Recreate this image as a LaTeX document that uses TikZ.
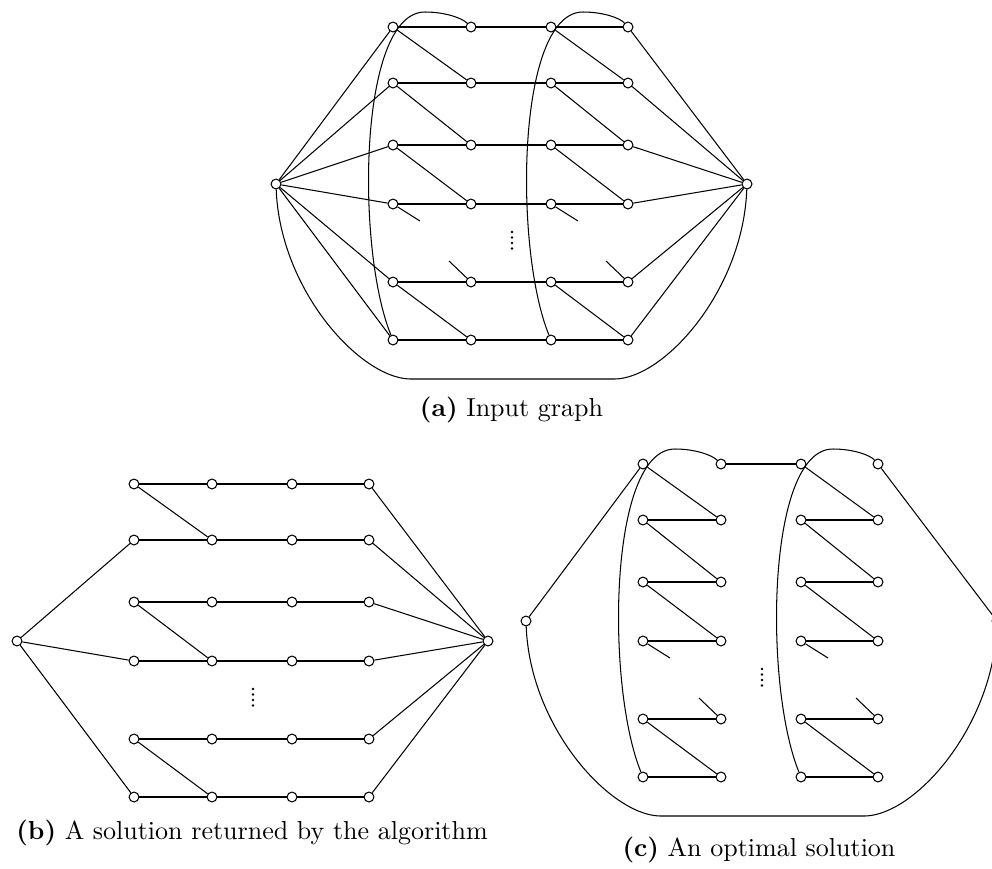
\documentclass[tikz,border=0pt]{standalone}
\usepackage{tikz}
\usetikzlibrary{positioning}

% one copy of the layout: two hubs and a 6x4 grid, names prefixed by #1
\newcommand{\placegrid}[1]{%
  \node[vtx] (#1L) at (276,184) {};
  \node[vtx] (#1R) at (747,184) {};
  \foreach \r/\yy in {1/27,2/83,3/145,4/204,5/282,6/340}
    \foreach \c/\xx in {1/393,2/471,3/551,4/628}
      \node[vtx] (#1\r\c) at (\xx,\yy) {};
}
% the cut-off ends around the dots
\newcommand{\placestubs}[1]{%
  \coordinate (#1s1) at (420,221);
  \coordinate (#1s2) at (578,221);
  \coordinate (#1s3) at (449,261);
  \coordinate (#1s4) at (606,261);
  \draw (#141) -- (#1s1);
  \draw (#143) -- (#1s2);
  \draw (#1s3) -- (#152);
  \draw (#1s4) -- (#154);
}
\newcommand{\placearcs}[1]{%
  \draw (#161) .. controls (356,250) and (358,12) .. (425,12)
    .. controls (445,12) and (462,18) .. (#112);
  \draw (#163) .. controls (514,250) and (516,12) .. (583,12)
    .. controls (603,12) and (620,18) .. (#114);
  \draw (#1L) .. controls (280,290) and (360,378) .. (410,379)
    -- (615,379) .. controls (665,378) and (743,290) .. (#1R);
}
\newcommand{\placedots}{%
  \foreach \d in {232,237.5,243,248.5}
    \fill (512,\d) circle (0.55pt);
}

\begin{document}
\begin{tikzpicture}[x=0.3846pt,y=-0.3846pt,
  vtx/.style={circle,draw,fill=white,inner sep=0pt,minimum size=3.8pt},
  subcap/.style={anchor=base,font=\normalsize}]
  \useasboundingbox (0,0) rectangle (992,869);

  % (a) input graph
  \begin{scope}
    \placegrid{a}
    \foreach \r in {1,...,6} {
      \draw (aL) -- (a\r1);
      \draw (a\r1) -- (a\r2) -- (a\r3) -- (a\r4);
      \draw (a\r4) -- (aR);
    }
    \foreach \r/\s in {1/2,2/3,3/4,5/6} {
      \draw (a\r1) -- (a\s2);
      \draw (a\r3) -- (a\s4);
    }
    \placestubs{a}
    \placearcs{a}
    \placedots
  \end{scope}
  \node[subcap] (capa) at (511.5,416) {\textbf{(a)} Input graph};

  % (b) solution of the algorithm
  \begin{scope}[shift={(-259,457)}]
    \placegrid{b}
    \foreach \r in {1,...,6} {
      \draw (b\r1) -- (b\r2) -- (b\r3) -- (b\r4);
      \draw (b\r4) -- (bR);
    }
    \foreach \r/\s in {1/2,3/4,5/6} {
      \draw (b\r1) -- (b\s2);
      \draw (bL) -- (b\s1);
    }
    \placedots
  \end{scope}
  \node[subcap] (capb) at (252,839) {\textbf{(b)} A solution returned by the algorithm};

  % (c) optimal solution
  \begin{scope}[shift={(250,437)}]
    \placegrid{c}
    \draw (cL) -- (c11);
    \draw (c12) -- (c13);
    \draw (c14) -- (cR);
    \foreach \r in {2,...,6} {
      \draw (c\r1) -- (c\r2);
      \draw (c\r3) -- (c\r4);
    }
    \foreach \r/\s in {1/2,2/3,3/4,5/6} {
      \draw (c\r1) -- (c\s2);
      \draw (c\r3) -- (c\s4);
    }
    \placestubs{c}
    \placearcs{c}
    \placedots
  \end{scope}
  \node[subcap] (capc) at (759,856) {\textbf{(c)} An optimal solution};
\end{tikzpicture}
\end{document}
